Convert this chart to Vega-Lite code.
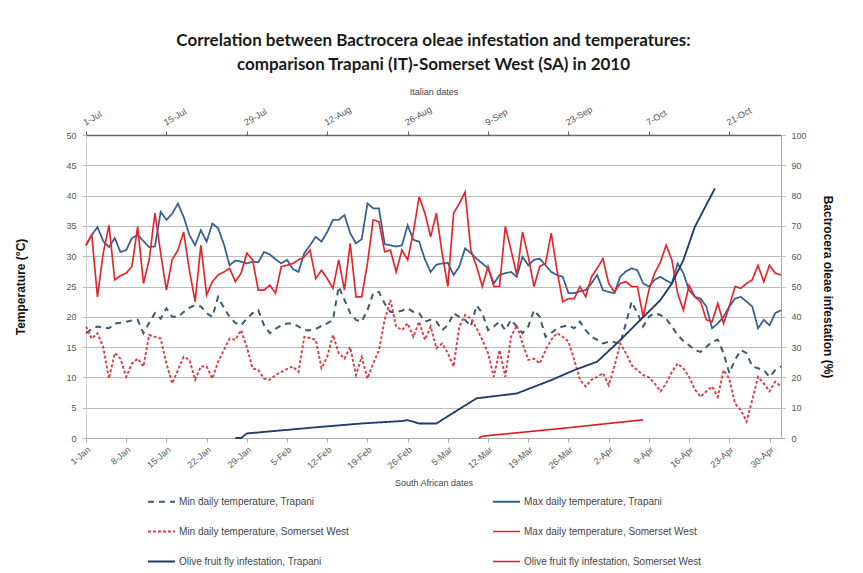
{
  "$schema": "https://vega.github.io/schema/vega-lite/v6.json",
  "width": 695,
  "height": 303,
  "autosize": {"type": "none"},
  "padding": {"left": 86, "top": 135, "right": 82, "bottom": 135},
  "background": "white",
  "config": {"font": "Liberation Sans", "view": {"stroke": null}},
  "title": {
    "text": ["Correlation between Bactrocera oleae infestation and temperatures:", "comparison Trapani (IT)-Somerset West (SA) in 2010"],
    "font": "Lato", "fontSize": 17, "fontWeight": "bold", "color": "#1a1a1a",
    "lineHeight": 24, "offset": 14, "anchor": "middle"
  },
  "datasets": {
    "temps": [
      {"day":0,"minTrapani":17.3,"maxTrapani":31.8,"minSomerset":18.4,"maxSomerset":31.8},
      {"day":1,"minTrapani":18,"maxTrapani":33.5,"minSomerset":16.4,"maxSomerset":33.5},
      {"day":2,"minTrapani":18.4,"maxTrapani":34.8,"minSomerset":17.3,"maxSomerset":23.3},
      {"day":3,"minTrapani":18.2,"maxTrapani":32.5,"minSomerset":15,"maxSomerset":30.5},
      {"day":4,"minTrapani":18.1,"maxTrapani":31.5,"minSomerset":9.8,"maxSomerset":35.1},
      {"day":5,"minTrapani":18.9,"maxTrapani":33,"minSomerset":14,"maxSomerset":26.1},
      {"day":6,"minTrapani":19,"maxTrapani":30.7,"minSomerset":13.1,"maxSomerset":26.8},
      {"day":7,"minTrapani":19.2,"maxTrapani":31,"minSomerset":10.1,"maxSomerset":27.2},
      {"day":8,"minTrapani":19.4,"maxTrapani":33,"minSomerset":12.3,"maxSomerset":28.3},
      {"day":9,"minTrapani":19.5,"maxTrapani":33.5,"minSomerset":13.1,"maxSomerset":34.9},
      {"day":10,"minTrapani":17.3,"maxTrapani":32.5,"minSomerset":11.8,"maxSomerset":25.5},
      {"day":11,"minTrapani":19,"maxTrapani":31.5,"minSomerset":17,"maxSomerset":29.4},
      {"day":12,"minTrapani":20.6,"maxTrapani":31.6,"minSomerset":16.7,"maxSomerset":37.1},
      {"day":13,"minTrapani":19.7,"maxTrapani":37.3,"minSomerset":16.4,"maxSomerset":30.5},
      {"day":14,"minTrapani":21.4,"maxTrapani":36,"minSomerset":12.3,"maxSomerset":24.4},
      {"day":15,"minTrapani":20,"maxTrapani":37,"minSomerset":9,"maxSomerset":29.4},
      {"day":16,"minTrapani":20,"maxTrapani":38.7,"minSomerset":11.2,"maxSomerset":31},
      {"day":17,"minTrapani":20.8,"maxTrapani":36.5,"minSomerset":13.4,"maxSomerset":34},
      {"day":18,"minTrapani":21.5,"maxTrapani":33.5,"minSomerset":12.9,"maxSomerset":27.7},
      {"day":19,"minTrapani":21.9,"maxTrapani":31.8,"minSomerset":9.6,"maxSomerset":22.5},
      {"day":20,"minTrapani":21.7,"maxTrapani":34.3,"minSomerset":11.8,"maxSomerset":31.8},
      {"day":21,"minTrapani":20.6,"maxTrapani":32.4,"minSomerset":11.8,"maxSomerset":23.6},
      {"day":22,"minTrapani":20,"maxTrapani":35.4,"minSomerset":9.8,"maxSomerset":25.8},
      {"day":23,"minTrapani":23.3,"maxTrapani":34.6,"minSomerset":12.6,"maxSomerset":26.9},
      {"day":24,"minTrapani":21.5,"maxTrapani":32,"minSomerset":14.5,"maxSomerset":27.4},
      {"day":25,"minTrapani":20,"maxTrapani":28.5,"minSomerset":16.4,"maxSomerset":28},
      {"day":26,"minTrapani":19,"maxTrapani":29.3,"minSomerset":16.2,"maxSomerset":25.8},
      {"day":27,"minTrapani":18.6,"maxTrapani":29.1,"minSomerset":17.8,"maxSomerset":27.2},
      {"day":28,"minTrapani":19.7,"maxTrapani":28.8,"minSomerset":15,"maxSomerset":30.5},
      {"day":29,"minTrapani":20.6,"maxTrapani":29.1,"minSomerset":11.5,"maxSomerset":29.4},
      {"day":30,"minTrapani":21.1,"maxTrapani":29,"minSomerset":11.2,"maxSomerset":24.4},
      {"day":31,"minTrapani":18.6,"maxTrapani":30.7,"minSomerset":9.8,"maxSomerset":24.4},
      {"day":32,"minTrapani":17.3,"maxTrapani":30.3,"minSomerset":9.6,"maxSomerset":25.2},
      {"day":33,"minTrapani":18,"maxTrapani":29.5,"minSomerset":10.4,"maxSomerset":23.9},
      {"day":34,"minTrapani":18.6,"maxTrapani":28.8,"minSomerset":10.9,"maxSomerset":28.3},
      {"day":35,"minTrapani":18.9,"maxTrapani":29.4,"minSomerset":11.4,"maxSomerset":28.5},
      {"day":36,"minTrapani":18.9,"maxTrapani":27.9,"minSomerset":11.8,"maxSomerset":28.8},
      {"day":37,"minTrapani":18.4,"maxTrapani":27.4,"minSomerset":10.9,"maxSomerset":29.4},
      {"day":38,"minTrapani":17.8,"maxTrapani":30.5,"minSomerset":16.7,"maxSomerset":29.9},
      {"day":39,"minTrapani":17.8,"maxTrapani":31.8,"minSomerset":16.5,"maxSomerset":31},
      {"day":40,"minTrapani":18,"maxTrapani":33.2,"minSomerset":16.2,"maxSomerset":26.3},
      {"day":41,"minTrapani":18.5,"maxTrapani":32.4,"minSomerset":11.5,"maxSomerset":27.7},
      {"day":42,"minTrapani":18.9,"maxTrapani":34,"minSomerset":13.4,"maxSomerset":26.3},
      {"day":43,"minTrapani":19.5,"maxTrapani":36,"minSomerset":17,"maxSomerset":24.7},
      {"day":44,"minTrapani":25,"maxTrapani":36,"minSomerset":14,"maxSomerset":29.4},
      {"day":45,"minTrapani":22.8,"maxTrapani":36.8,"minSomerset":13.1,"maxSomerset":24.4},
      {"day":46,"minTrapani":20.6,"maxTrapani":33.8,"minSomerset":15,"maxSomerset":32.1},
      {"day":47,"minTrapani":19.5,"maxTrapani":32.1,"minSomerset":10.4,"maxSomerset":23.3},
      {"day":48,"minTrapani":19.2,"maxTrapani":32.8,"minSomerset":13.4,"maxSomerset":23.3},
      {"day":49,"minTrapani":21.1,"maxTrapani":38.7,"minSomerset":9.8,"maxSomerset":28.8},
      {"day":50,"minTrapani":23.9,"maxTrapani":37.9,"minSomerset":12.3,"maxSomerset":36},
      {"day":51,"minTrapani":24.1,"maxTrapani":37.9,"minSomerset":14.5,"maxSomerset":35.7},
      {"day":52,"minTrapani":22.2,"maxTrapani":32,"minSomerset":19.5,"maxSomerset":30.7},
      {"day":53,"minTrapani":20.8,"maxTrapani":31.8,"minSomerset":22.8,"maxSomerset":31},
      {"day":54,"minTrapani":20.8,"maxTrapani":31.6,"minSomerset":18.4,"maxSomerset":27.4},
      {"day":55,"minTrapani":21,"maxTrapani":31.8,"minSomerset":17.8,"maxSomerset":31},
      {"day":56,"minTrapani":21.4,"maxTrapani":35.1,"minSomerset":18.9,"maxSomerset":29.4},
      {"day":57,"minTrapani":20.8,"maxTrapani":32.7,"minSomerset":16.7,"maxSomerset":34},
      {"day":58,"minTrapani":20.6,"maxTrapani":32.4,"minSomerset":19.2,"maxSomerset":39.8},
      {"day":59,"minTrapani":19.2,"maxTrapani":29.5,"minSomerset":16.2,"maxSomerset":37.1},
      {"day":60,"minTrapani":19.5,"maxTrapani":27.4,"minSomerset":18.4,"maxSomerset":33.2},
      {"day":61,"minTrapani":19.2,"maxTrapani":28.6,"minSomerset":14.8,"maxSomerset":37.1},
      {"day":62,"minTrapani":17.8,"maxTrapani":28.8,"minSomerset":15.6,"maxSomerset":30.5},
      {"day":63,"minTrapani":18.6,"maxTrapani":28.9,"minSomerset":14,"maxSomerset":25},
      {"day":64,"minTrapani":20.6,"maxTrapani":26.9,"minSomerset":11.8,"maxSomerset":37.1},
      {"day":65,"minTrapani":20,"maxTrapani":28.3,"minSomerset":18.4,"maxSomerset":38.7},
      {"day":66,"minTrapani":19.5,"maxTrapani":31.3,"minSomerset":20.3,"maxSomerset":40.6},
      {"day":67,"minTrapani":18.4,"maxTrapani":30.5,"minSomerset":19.7,"maxSomerset":31},
      {"day":68,"minTrapani":21.9,"maxTrapani":29.6,"minSomerset":18.1,"maxSomerset":28.3},
      {"day":69,"minTrapani":20.6,"maxTrapani":28.8,"minSomerset":16.2,"maxSomerset":25},
      {"day":70,"minTrapani":17.8,"maxTrapani":28,"minSomerset":14,"maxSomerset":28.3},
      {"day":71,"minTrapani":18.4,"maxTrapani":25.5,"minSomerset":10.1,"maxSomerset":25},
      {"day":72,"minTrapani":19.2,"maxTrapani":26.9,"minSomerset":14.5,"maxSomerset":25},
      {"day":73,"minTrapani":17.8,"maxTrapani":27.2,"minSomerset":10.1,"maxSomerset":34.9},
      {"day":74,"minTrapani":19.5,"maxTrapani":27.4,"minSomerset":16.7,"maxSomerset":31},
      {"day":75,"minTrapani":18.4,"maxTrapani":26.6,"minSomerset":18.6,"maxSomerset":26.9},
      {"day":76,"minTrapani":17.3,"maxTrapani":29.9,"minSomerset":15.6,"maxSomerset":34},
      {"day":77,"minTrapani":18.4,"maxTrapani":28.5,"minSomerset":12.9,"maxSomerset":29.9},
      {"day":78,"minTrapani":21.1,"maxTrapani":29.4,"minSomerset":13.1,"maxSomerset":25},
      {"day":79,"minTrapani":20,"maxTrapani":29.6,"minSomerset":12.3,"maxSomerset":28.3},
      {"day":80,"minTrapani":16.7,"maxTrapani":28.5,"minSomerset":14.5,"maxSomerset":28.8},
      {"day":81,"minTrapani":17.3,"maxTrapani":27.4,"minSomerset":16.2,"maxSomerset":33.8},
      {"day":82,"minTrapani":18.1,"maxTrapani":26.9,"minSomerset":17.3,"maxSomerset":27.7},
      {"day":83,"minTrapani":18.4,"maxTrapani":26.6,"minSomerset":16.7,"maxSomerset":22.5},
      {"day":84,"minTrapani":18.6,"maxTrapani":23.9,"minSomerset":15.9,"maxSomerset":23},
      {"day":85,"minTrapani":18.1,"maxTrapani":23.9,"minSomerset":12.9,"maxSomerset":23},
      {"day":86,"minTrapani":19.2,"maxTrapani":24.2,"minSomerset":9.6,"maxSomerset":25},
      {"day":87,"minTrapani":17.8,"maxTrapani":24.4,"minSomerset":8.5,"maxSomerset":23.3},
      {"day":88,"minTrapani":16.7,"maxTrapani":25.5,"minSomerset":9.6,"maxSomerset":26.6},
      {"day":89,"minTrapani":16.2,"maxTrapani":26.9,"minSomerset":10.1,"maxSomerset":28},
      {"day":90,"minTrapani":15.6,"maxTrapani":24.4,"minSomerset":10.7,"maxSomerset":29.6},
      {"day":91,"minTrapani":15.9,"maxTrapani":24.1,"minSomerset":8.7,"maxSomerset":25.5},
      {"day":92,"minTrapani":15.8,"maxTrapani":23.9,"minSomerset":11.8,"maxSomerset":24.1},
      {"day":93,"minTrapani":15.6,"maxTrapani":26.6,"minSomerset":15.6,"maxSomerset":25.5},
      {"day":94,"minTrapani":18.9,"maxTrapani":27.5,"minSomerset":14,"maxSomerset":25.8},
      {"day":95,"minTrapani":22.5,"maxTrapani":28,"minSomerset":12,"maxSomerset":25},
      {"day":96,"minTrapani":20.6,"maxTrapani":27.7,"minSomerset":11.2,"maxSomerset":25},
      {"day":97,"minTrapani":18.4,"maxTrapani":25.5,"minSomerset":10.4,"maxSomerset":20},
      {"day":98,"minTrapani":20,"maxTrapani":25,"minSomerset":10,"maxSomerset":24.4},
      {"day":99,"minTrapani":20.6,"maxTrapani":26.1,"minSomerset":9,"maxSomerset":27.2},
      {"day":100,"minTrapani":20.3,"maxTrapani":26.6,"minSomerset":7.7,"maxSomerset":29},
      {"day":101,"minTrapani":19.7,"maxTrapani":26,"minSomerset":9,"maxSomerset":31.8},
      {"day":102,"minTrapani":18.4,"maxTrapani":25.5,"minSomerset":10.9,"maxSomerset":29.4},
      {"day":103,"minTrapani":17,"maxTrapani":28.8,"minSomerset":12.3,"maxSomerset":23.9},
      {"day":104,"minTrapani":16,"maxTrapani":27.2,"minSomerset":11.5,"maxSomerset":21.1},
      {"day":105,"minTrapani":15.3,"maxTrapani":24.4,"minSomerset":10.1,"maxSomerset":25.2},
      {"day":106,"minTrapani":14.5,"maxTrapani":23.3,"minSomerset":8,"maxSomerset":23.3},
      {"day":107,"minTrapani":14.2,"maxTrapani":23,"minSomerset":6.8,"maxSomerset":22.5},
      {"day":108,"minTrapani":15,"maxTrapani":21.7,"minSomerset":7.7,"maxSomerset":19.5},
      {"day":109,"minTrapani":15.9,"maxTrapani":18.1,"minSomerset":8.5,"maxSomerset":19.2},
      {"day":110,"minTrapani":16.2,"maxTrapani":18.9,"minSomerset":6.8,"maxSomerset":22.2},
      {"day":111,"minTrapani":14,"maxTrapani":20,"minSomerset":11.2,"maxSomerset":18.9},
      {"day":112,"minTrapani":10.7,"maxTrapani":21.7,"minSomerset":9.8,"maxSomerset":21.7},
      {"day":113,"minTrapani":12.9,"maxTrapani":23,"minSomerset":5.7,"maxSomerset":25},
      {"day":114,"minTrapani":14.5,"maxTrapani":23.3,"minSomerset":4.6,"maxSomerset":24.7},
      {"day":115,"minTrapani":14,"maxTrapani":22.5,"minSomerset":2.7,"maxSomerset":25.5},
      {"day":116,"minTrapani":11.8,"maxTrapani":21.7,"minSomerset":6.3,"maxSomerset":26.1},
      {"day":117,"minTrapani":11.5,"maxTrapani":18.1,"minSomerset":10.1,"maxSomerset":28.5},
      {"day":118,"minTrapani":11.2,"maxTrapani":19.5,"minSomerset":9,"maxSomerset":25.8},
      {"day":119,"minTrapani":10.1,"maxTrapani":18.6,"minSomerset":7.7,"maxSomerset":28.5},
      {"day":120,"minTrapani":11.2,"maxTrapani":20.6,"minSomerset":9.3,"maxSomerset":27.2},
      {"day":121,"minTrapani":11.8,"maxTrapani":21.1,"minSomerset":8.5,"maxSomerset":26.9}
    ],
    "infest": [
      {"day":26,"series":"infTrapani","value":0},
      {"day":27,"series":"infTrapani","value":0},
      {"day":28,"series":"infTrapani","value":1.5},
      {"day":41,"series":"infTrapani","value":3.7},
      {"day":48,"series":"infTrapani","value":4.8},
      {"day":55,"series":"infTrapani","value":5.6},
      {"day":56,"series":"infTrapani","value":5.9},
      {"day":58,"series":"infTrapani","value":4.8},
      {"day":61,"series":"infTrapani","value":4.8},
      {"day":68,"series":"infTrapani","value":13.1},
      {"day":75,"series":"infTrapani","value":14.7},
      {"day":81,"series":"infTrapani","value":19.1},
      {"day":85,"series":"infTrapani","value":22.4},
      {"day":89,"series":"infTrapani","value":25.2},
      {"day":93,"series":"infTrapani","value":32.3},
      {"day":96,"series":"infTrapani","value":38},
      {"day":100,"series":"infTrapani","value":45.5},
      {"day":102,"series":"infTrapani","value":51},
      {"day":104,"series":"infTrapani","value":58.7},
      {"day":106,"series":"infTrapani","value":69.7},
      {"day":109.5,"series":"infTrapani","value":82.4},
      {"day":68.4,"series":"infSomerset","value":0},
      {"day":69,"series":"infSomerset","value":0.6},
      {"day":76,"series":"infSomerset","value":1.9},
      {"day":83,"series":"infSomerset","value":3.2},
      {"day":90,"series":"infSomerset","value":4.6},
      {"day":97,"series":"infSomerset","value":6}
    ]
  },
  "layer": [
    {
      "data": {"name": "temps"},
      "transform": [{"fold": ["minTrapani", "maxTrapani", "minSomerset", "maxSomerset"], "as": ["series", "value"]}],
      "mark": {"type": "line", "strokeCap": "butt", "strokeJoin": "miter"},
      "encoding": {
        "x": {
          "field": "day", "type": "quantitative",
          "scale": {"domain": [0, 121], "nice": false, "zero": false},
          "axis": {
            "orient": "bottom",
            "values": [0, 7, 14, 21, 28, 35, 42, 49, 56, 63, 70, 77, 84, 91, 98, 105, 112, 119],
            "labelExpr": "timeFormat(datetime(2010, 0, 1 + datum.value), '%-d-%b')",
            "labelAngle": -40, "labelFontSize": 9, "labelColor": "#555", "labelOverlap": false, "labelFlush": false,
            "labelPadding": 3,
            "title": "South African dates", "titleFontSize": 9, "titleFontWeight": "normal", "titleColor": "#444", "titlePadding": 8,
            "grid": false, "tickSize": 4, "domainColor": "#aaa", "tickColor": "#aaa"
          }
        },
        "y": {
          "field": "value", "type": "quantitative",
          "scale": {"domain": [0, 50], "nice": false},
          "axis": {
            "values": [0, 5, 10, 15, 20, 25, 30, 35, 40, 45, 50],
            "title": "Temperature  (°C)", "titleFontSize": 12, "titleFontWeight": "bold", "titleColor": "#111", "titlePadding": 38,
            "labelFontSize": 9, "labelColor": "#555", "labelPadding": 6,
            "grid": true, "gridColor": "#bdbdbd", "gridWidth": 1.2,
            "domainColor": "#ccc", "tickColor": "#bbb", "tickSize": 4
          }
        },
        "color": {
          "field": "series", "type": "nominal",
          "scale": {
            "domain": ["minTrapani", "minSomerset", "infTrapani", "maxTrapani", "maxSomerset", "infSomerset"],
            "range": ["#3e5a6b", "#d8414a", "#1f3b6c", "#365f8f", "#e3262c", "#e0181d"]
          },
          "legend": {
            "title": null, "orient": "none", "legendX": 61, "legendY": 352, "columns": 2,
            "columnPadding": 140, "rowPadding": 10, "symbolType": "stroke", "symbolSize": 729,
            "labelFontSize": 10, "labelColor": "#444", "labelLimit": 400, "labelOffset": 3,
            "labelExpr": "datum.label == 'minTrapani' ? 'Min daily temperature, Trapani' : datum.label == 'maxTrapani' ? 'Max daily temperature, Trapani' : datum.label == 'minSomerset' ? 'Min daily temperature, Somerset West' : datum.label == 'maxSomerset' ? 'Max daily temperature, Somerset West' : datum.label == 'infTrapani' ? 'Olive fruit fly infestation, Trapani' : 'Olive fruit fly infestation, Somerset West'"
          }
        },
        "strokeDash": {
          "field": "series", "type": "nominal",
          "scale": {
            "domain": ["minTrapani", "minSomerset", "infTrapani", "maxTrapani", "maxSomerset", "infSomerset"],
            "range": [[6, 5], [3, 2], [1, 0], [1, 0], [1, 0], [1, 0]]
          }
        },
        "strokeWidth": {
          "field": "series", "type": "nominal",
          "scale": {
            "domain": ["minTrapani", "minSomerset", "infTrapani", "maxTrapani", "maxSomerset", "infSomerset"],
            "range": [2, 1.6, 3, 1.5, 1.6, 3]
          }
        }
      }
    },
    {
      "data": {"name": "infest"},
      "mark": {"type": "line", "strokeCap": "butt"},
      "encoding": {
        "x": {
          "field": "day", "type": "quantitative",
          "scale": {"domain": [0, 121], "nice": false, "zero": false},
          "axis": {
            "orient": "top",
            "values": [0, 14, 28, 42, 56, 70, 84, 98, 112],
            "labelExpr": "timeFormat(datetime(2010, 6, 1 + datum.value), '%-d-%b')",
            "labelAngle": -30, "labelFontSize": 9, "labelColor": "#555", "labelOverlap": false, "labelFlush": false,
            "labelPadding": 4,
            "title": "Italian dates", "titleFontSize": 9, "titleFontWeight": "normal", "titleColor": "#444", "titlePadding": 8,
            "grid": false, "tickSize": 4, "domainColor": "#666", "domainWidth": 1.5, "tickColor": "#666"
          }
        },
        "y": {
          "field": "value", "type": "quantitative",
          "scale": {"domain": [0, 100], "nice": false},
          "axis": {
            "orient": "right",
            "values": [0, 10, 20, 30, 40, 50, 60, 70, 80, 90, 100],
            "title": "Bactrocera oleae infestation (%)", "titleFontSize": 12, "titleFontWeight": "bold", "titleColor": "#111", "titlePadding": 14,
            "labelFontSize": 9, "labelColor": "#555", "labelPadding": 6,
            "grid": false, "domainColor": "#aaa", "tickColor": "#bbb", "tickSize": 4
          }
        },
        "color": {
          "field": "series", "type": "nominal",
          "scale": {
            "domain": ["minTrapani", "minSomerset", "infTrapani", "maxTrapani", "maxSomerset", "infSomerset"],
            "range": ["#3e5a6b", "#d8414a", "#1f3b6c", "#365f8f", "#e3262c", "#e0181d"]
          }
        },
        "strokeDash": {
          "field": "series", "type": "nominal",
          "scale": {
            "domain": ["minTrapani", "minSomerset", "infTrapani", "maxTrapani", "maxSomerset", "infSomerset"],
            "range": [[6, 5], [3, 2], [1, 0], [1, 0], [1, 0], [1, 0]]
          }
        },
        "strokeWidth": {
          "field": "series", "type": "nominal",
          "scale": {
            "domain": ["minTrapani", "minSomerset", "infTrapani", "maxTrapani", "maxSomerset", "infSomerset"],
            "range": [2, 1.6, 3, 1.5, 1.6, 3]
          }
        }
      }
    }
  ],
  "resolve": {"scale": {"y": "independent"}, "axis": {"x": "independent", "y": "independent"}}
}
